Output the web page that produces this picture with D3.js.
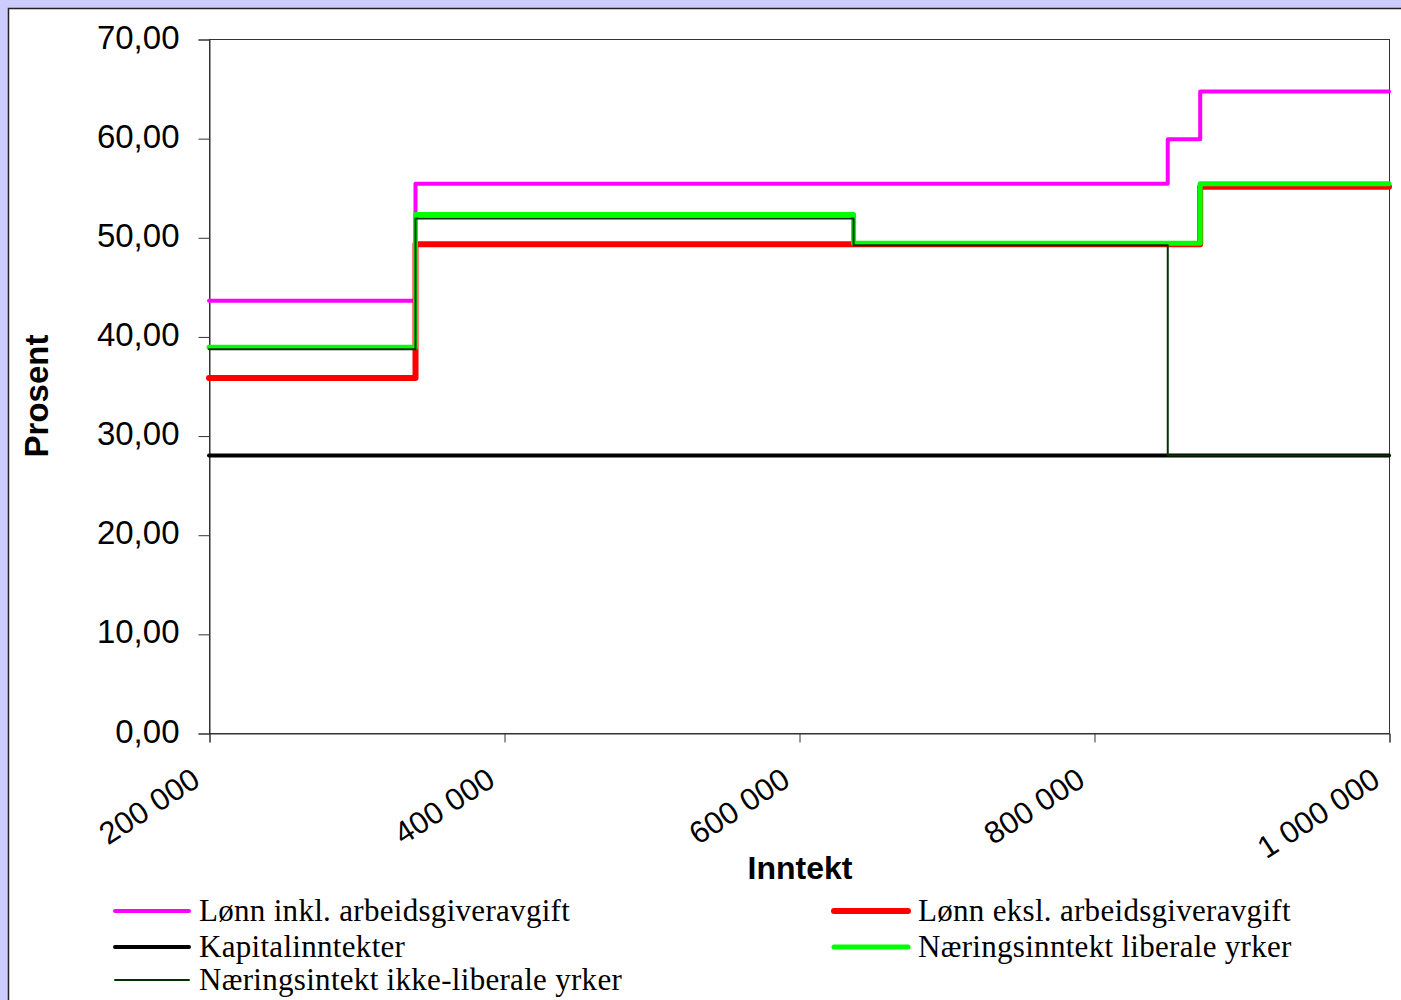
<!DOCTYPE html>
<html>
<head>
<meta charset="utf-8">
<script src="https://cdn.jsdelivr.net/npm/d3@7"></script>
<style>
  body { margin: 0; background: #ccccff; }
  svg { display: block; }
</style>
</head>
<body>
<svg></svg>
<script>
// income breakpoints (step after) and the marginal rates
let incomes = [200000, 340000, 637000, 850000, 872000, 1000000];
let lonnInkl = [43.6, 55.4, 55.4, 59.9, 64.7, 64.7];
let lonnEksl = [35.8, 49.3, 49.3, 49.3, 55.1, 55.1];
let kapital = [28.0, 28.0, 28.0, 28.0, 28.0, 28.0];
let liberale = [38.9, 52.3, 49.4, 49.4, 55.4, 55.4];
let ikkeLiberale = [38.7, 51.9, 49.2, 28.0, 28.0, 28.0];

let seriesNames = ["Lønn inkl. arbeidsgiveravgift", "Lønn eksl. arbeidsgiveravgift",
  "Kapitalinntekter", "Næringsinntekt liberale yrker", "Næringsintekt ikke-liberale yrker"];
let seriesValues = [lonnInkl, lonnEksl, kapital, liberale, ikkeLiberale];
let seriesColors = ["#ff00ff", "#ff0000", "#000000", "#00ff00", "#003300"];
let seriesWidths = [4, 6, 4, 5, 2];

let yTicks = [0, 10, 20, 30, 40, 50, 60, 70];
let xTicks = [200000, 400000, 600000, 800000, 1000000];

let svgWidth = 1401, svgHeight = 1000;
let margin = {left: 209, right: 12, top: 39, bottom: 267};

let svg = d3.select('svg')
  .attr("width", svgWidth)
  .attr("height", svgHeight);

// white chart area with dark frame
svg.append("rect")
  .attr("x", 8.5).attr("y", 8.5)
  .attr("width", svgWidth).attr("height", svgHeight)
  .attr("fill", "#ffffff")
  .attr("stroke", "#222")
  .attr("stroke-width", 1.5);

let locale = d3.formatLocale({decimal: ",", thousands: " ", grouping: [3], currency: ["", " kr"]});

let xScale = d3.scaleLinear()
  .domain([200000, 1000000])
  .range([margin.left, svgWidth - margin.right]);

let yScale = d3.scaleLinear()
  .domain([0, 70])
  .range([svgHeight - margin.bottom, margin.top]);

// plot frame
svg.append("rect")
  .attr("x", xScale(200000) + 0.5).attr("y", yScale(70) + 0.5)
  .attr("width", xScale(1000000) - xScale(200000))
  .attr("height", yScale(0) - yScale(70))
  .attr("fill", "none")
  .attr("stroke", "#333")
  .attr("stroke-width", 1);

let y_axis = d3.axisLeft(yScale)
  .tickValues(yTicks)
  .tickSize(11)
  .tickPadding(19)
  .tickFormat(locale.format(".2f"));

let yG = svg.append("g")
  .attr("transform", "translate(" + (margin.left + 0.5) + ",0.5)")
  .call(y_axis);
yG.selectAll("text")
  .attr("font-family", "Liberation Sans, Arial, sans-serif")
  .attr("font-size", 33)
  .attr("fill", "#000")
  .attr("dy", "0.26em");

let x_axis = d3.axisBottom(xScale)
  .tickValues(xTicks)
  .tickSize(9)
  .tickFormat(locale.format(",d"));

let xG = svg.append("g")
  .attr("transform", "translate(0.5," + (yScale(0) + 0.5) + ")")
  .call(x_axis);
xG.selectAll("text")
  .attr("font-family", "Liberation Sans, Arial, sans-serif")
  .attr("font-size", 31)
  .attr("fill", "#000")
  .attr("text-anchor", "end")
  .attr("dy", null)
  .attr("y", null)
  .attr("transform", "translate(-8,51) rotate(-33)");

svg.selectAll(".domain").attr("stroke", "#333");
svg.selectAll(".tick line").attr("stroke", "#333");

// series lines
let line = d3.line()
  .x((d, i) => xScale(incomes[i]))
  .y(d => yScale(d))
  .curve(d3.curveStepAfter);

svg.selectAll("path.series")
  .data(seriesValues)
  .enter()
  .append("path")
  .attr("class", "series")
  .attr("d", d => line(d))
  .attr("fill", "none")
  .attr("stroke", (d, i) => seriesColors[i])
  .attr("stroke-width", (d, i) => seriesWidths[i])
  .attr("stroke-linejoin", "round")
  .attr("stroke-linecap", "round");

// axis titles
svg.append("text")
  .attr("x", 800)
  .attr("y", 879)
  .attr("text-anchor", "middle")
  .attr("font-family", "Liberation Sans, Arial, sans-serif")
  .attr("font-weight", "bold")
  .attr("font-size", 32)
  .text("Inntekt");

svg.append("text")
  .attr("transform", "translate(48,396) rotate(-90)")
  .attr("text-anchor", "middle")
  .attr("font-family", "Liberation Sans, Arial, sans-serif")
  .attr("font-weight", "bold")
  .attr("font-size", 33)
  .text("Prosent");

// legend
let legendPos = [[113, 911], [832, 911], [113, 947], [832, 947], [113, 980]];
let legend = svg.selectAll("g.legend")
  .data(seriesNames)
  .enter()
  .append("g")
  .attr("class", "legend")
  .attr("transform", (d, i) => "translate(" + legendPos[i][0] + "," + legendPos[i][1] + ")");

legend.append("line")
  .attr("x1", 2).attr("x2", 76)
  .attr("y1", 0).attr("y2", 0)
  .attr("stroke", (d, i) => seriesColors[i])
  .attr("stroke-width", (d, i) => seriesWidths[i])
  .attr("stroke-linecap", "round");

legend.append("text")
  .attr("x", 86)
  .attr("y", 10)
  .attr("font-family", "Liberation Serif, Times New Roman, serif")
  .attr("font-size", 31)
  .attr("letter-spacing", 0.3)
  .attr("fill", "#000")
  .text(d => d);
</script>
</body>
</html>
